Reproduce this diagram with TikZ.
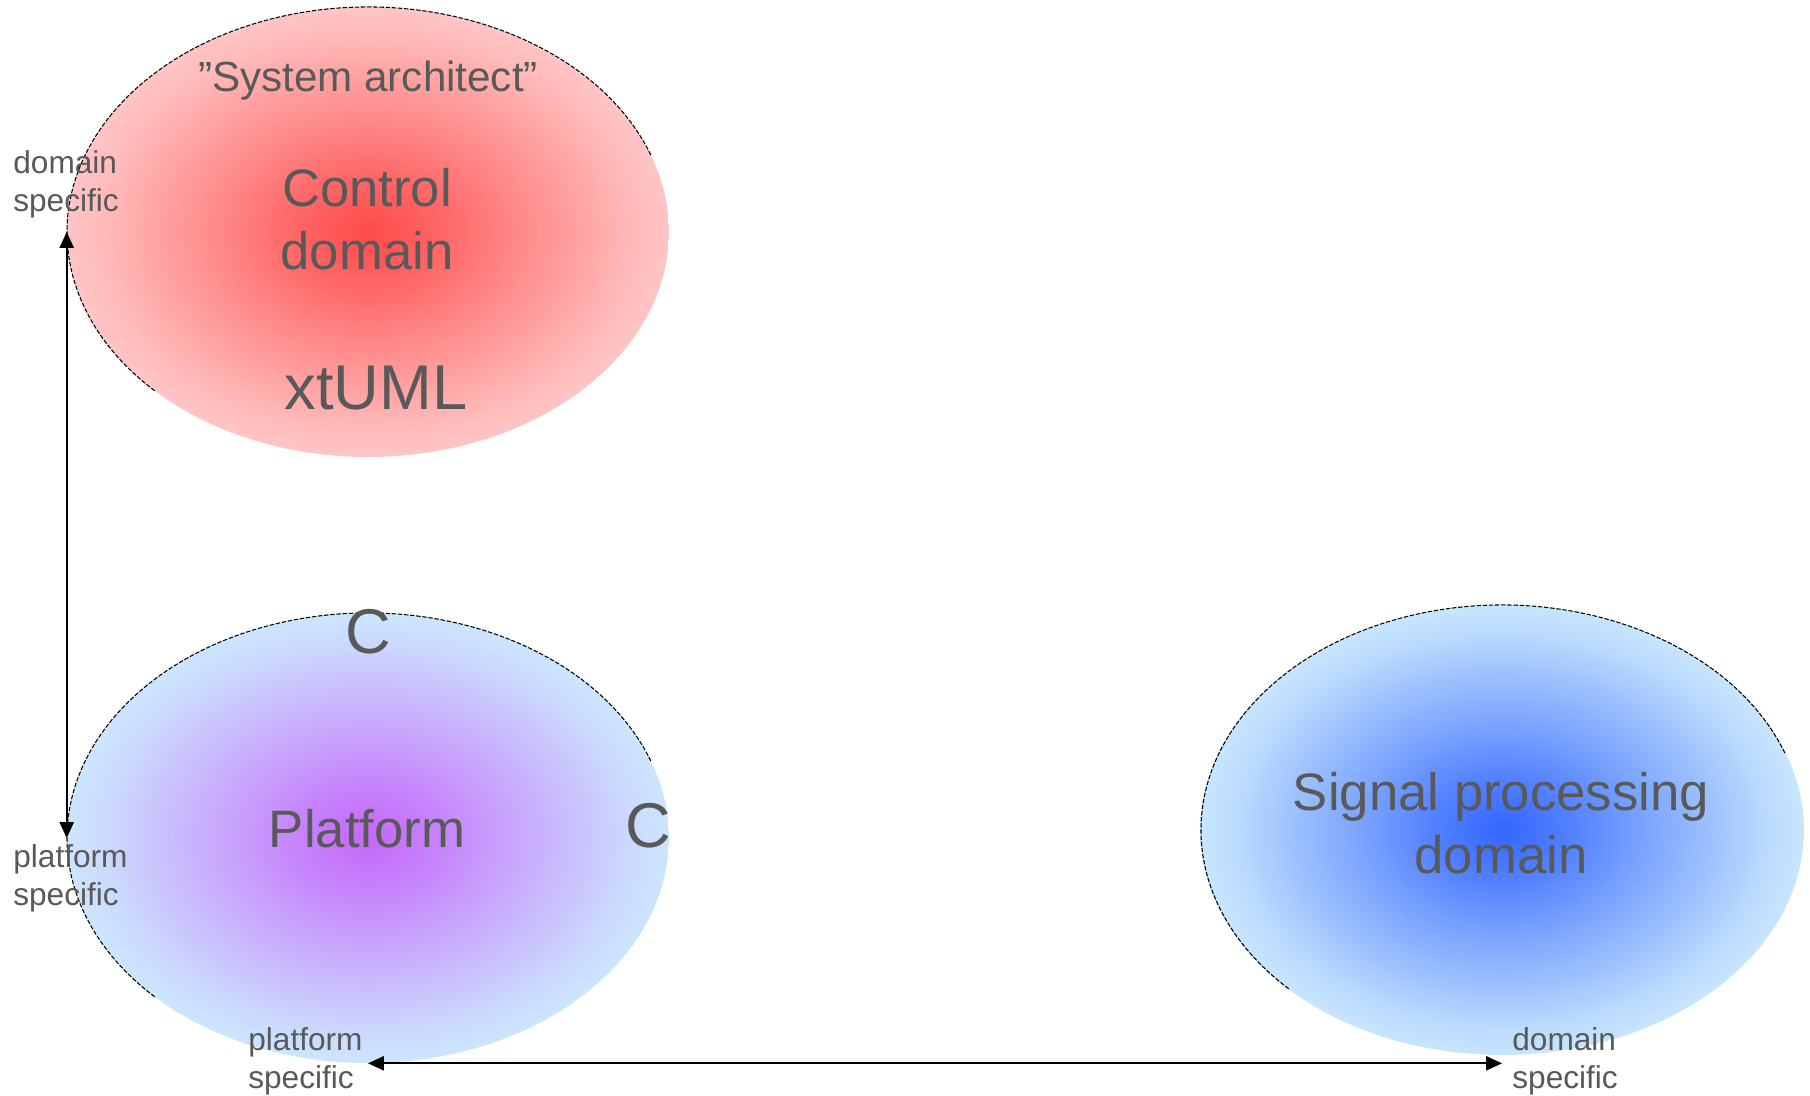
\documentclass[tikz,border=0pt]{standalone}
\usepackage{fontspec}
\setmainfont{Liberation Sans}
\usetikzlibrary{shapes.geometric,arrows.meta}

\definecolor{txtgray}{HTML}{595959}
\definecolor{redcore}{HTML}{FF4A4A}
\definecolor{redrim}{HTML}{FFC8C8}
\definecolor{purplecore}{HTML}{C567FB}
\definecolor{bluecore}{HTML}{3366FF}
\definecolor{skyrim}{HTML}{CCE9FE}

\pgfdeclareradialshading{ctrlglow}{\pgfpointorigin}{color(0bp)=(redcore); color(6bp)=(redcore!78!redrim); color(12bp)=(redcore!52!redrim); color(18bp)=(redcore!28!redrim); color(22bp)=(redcore!11!redrim); color(26bp)=(redrim); color(50bp)=(redrim)}
\pgfdeclareradialshading{platglow}{\pgfpointorigin}{color(0bp)=(purplecore); color(6bp)=(purplecore!78!skyrim); color(12bp)=(purplecore!52!skyrim); color(18bp)=(purplecore!28!skyrim); color(22bp)=(purplecore!11!skyrim); color(26bp)=(skyrim); color(50bp)=(skyrim)}
\pgfdeclareradialshading{sigglow}{\pgfpointorigin}{color(0bp)=(bluecore); color(6bp)=(bluecore!78!skyrim); color(12bp)=(bluecore!52!skyrim); color(18bp)=(bluecore!28!skyrim); color(22bp)=(bluecore!11!skyrim); color(26bp)=(skyrim); color(50bp)=(skyrim)}

\tikzset{
  domellipse/.style={ellipse, inner sep=0pt, minimum width=12.04cm, minimum height=9cm, shade},
  rim/.style={line width=0.6pt, dash pattern=on 2.5pt off 1pt},
  bigtxt/.style={text=txtgray, font=\fontsize{30}{36}\selectfont, align=center},
  hugetxt/.style={text=txtgray, font=\fontsize{36}{43}\selectfont, anchor=base},
  smalltxt/.style={text=txtgray, font=\fontsize{18}{21.8}\selectfont, align=left, inner sep=0pt, anchor=west},
  dimline/.style={{Triangle[length=9pt,width=8pt]}-{Triangle[length=9pt,width=8pt]}, line width=1.1pt},
}

\begin{document}
\begin{tikzpicture}[x=0.02cm, y=-0.02cm]
\useasboundingbox (0,0) rectangle (1810,1096);

%draw domains
\node[domellipse, shading=ctrlglow] (ctrl) at (368,232) {};
\node[domellipse, shading=platglow] (plat) at (368,838) {};
\node[domellipse, shading=sigglow, minimum width=12.08cm] (sig) at (1502,830) {};

%thin rim on the upper left
\foreach \d in {ctrl,plat,sig}{
   \draw[rim] (\d.center) ++(-20:301 and 225) arc[start angle=-20, end angle=-225, x radius=301, y radius=225];
}

%draw texts
\node[bigtxt, anchor=base, font=\fontsize{24}{29}\selectfont] (arch) at (368,91) {”System architect”};
\node[bigtxt] (ctrltxt) at (367,219) {Control\\domain};
\node[hugetxt] (xtuml) at (376,409) {xtUML};
\node[hugetxt] (ctop) at (368,653) {C};
\node[bigtxt, anchor=base] (plattxt) at (367,847) {Platform};
\node[hugetxt] (cright) at (648,847) {C};
\node[bigtxt] (sigtxt) at (1501,823) {Signal processing\\domain};

%draw arrows
\draw[dimline] (ctrl.west) -- (ctrl.west |- plat.west);
\draw[dimline] (plat.south) -- (plat.south -| sig.south);

%draw end labels
\node[smalltxt] (ctrlspec) at (13,184) {domain\\specific};
\node[smalltxt] (platspec) at (13,878) {platform\\specific};
\node[smalltxt] (platspecb) at (248,1061) {platform\\specific};
\node[smalltxt] (sigspec) at (1512,1061) {domain\\specific};
\end{tikzpicture}
\end{document}
